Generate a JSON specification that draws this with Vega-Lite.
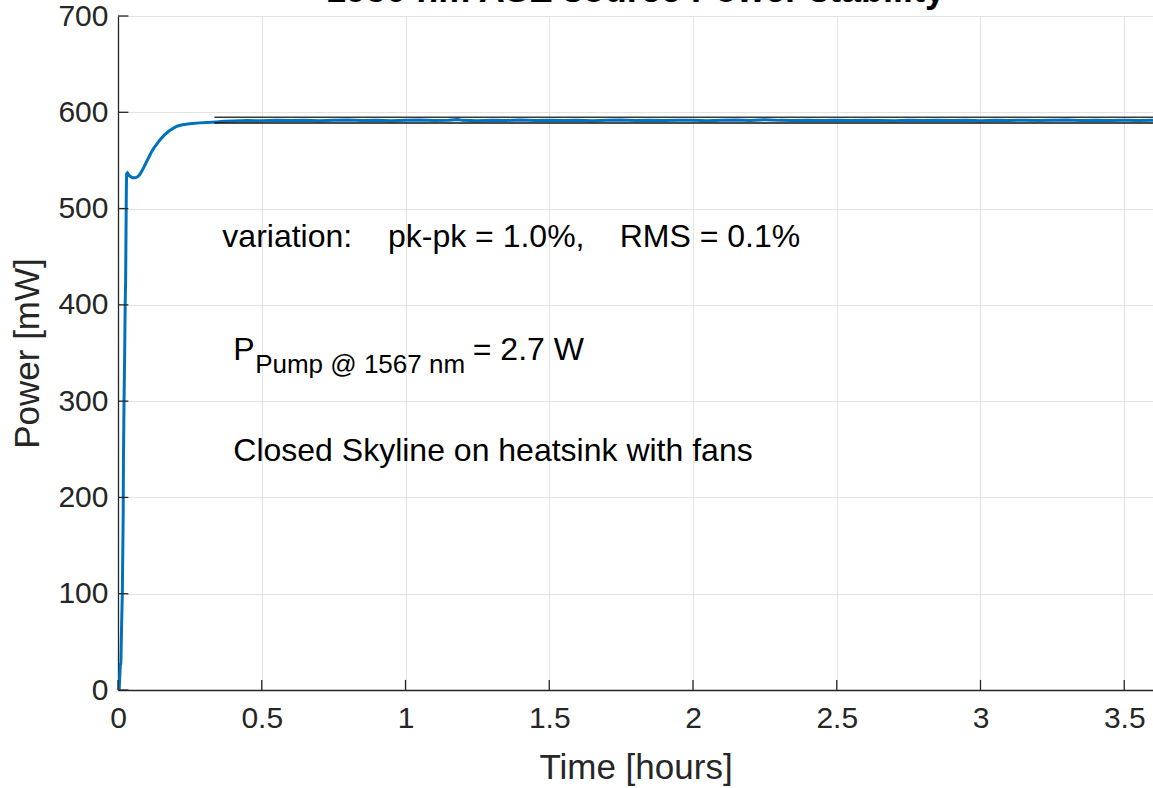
{
  "$schema": "https://vega.github.io/schema/vega-lite/v6.json",
  "autosize": {"type": "none"},
  "padding": {"left": 118, "top": 16, "right": 0, "bottom": 98},
  "width": 1035,
  "height": 674,
  "background": "white",
  "title": {"text": "1950 nm ASE source Power stability", "fontSize": 36, "fontWeight": "bold", "font": "Liberation Sans", "color": "#000000", "anchor": "middle", "baseline": "alphabetic", "offset": 0, "dy": 37},
  "config": {
    "view": {"stroke": null},
    "axis": {"labelFont": "Liberation Sans", "titleFont": "Liberation Sans", "labelColor": "#262626", "titleColor": "#262626", "domainColor": "#262626", "gridColor": "#e3e3e3", "gridWidth": 1, "domainWidth": 1.3, "labelFontSize": 30, "titleFontSize": 35, "titleFontWeight": "normal", "ticks": false, "tickSize": 0}
  },
  "datasets": {
    "series": [
      {"t": 0.0, "p": 0}, {"t": 0.004, "p": 0}, {"t": 0.008, "p": 26}, {"t": 0.010, "p": 28}, {"t": 0.012, "p": 60},
      {"t": 0.015, "p": 100}, {"t": 0.018, "p": 180}, {"t": 0.019, "p": 240}, {"t": 0.021, "p": 300}, {"t": 0.023, "p": 345},
      {"t": 0.025, "p": 400}, {"t": 0.0265, "p": 425}, {"t": 0.028, "p": 480}, {"t": 0.029, "p": 520}, {"t": 0.030, "p": 536},
      {"t": 0.033, "p": 537}, {"t": 0.040, "p": 534}, {"t": 0.050, "p": 532}, {"t": 0.060, "p": 532}, {"t": 0.068, "p": 533},
      {"t": 0.075, "p": 535}, {"t": 0.085, "p": 540}, {"t": 0.095, "p": 546}, {"t": 0.105, "p": 552}, {"t": 0.115, "p": 558},
      {"t": 0.125, "p": 563}, {"t": 0.135, "p": 567}, {"t": 0.145, "p": 571}, {"t": 0.160, "p": 576}, {"t": 0.175, "p": 580},
      {"t": 0.190, "p": 583}, {"t": 0.205, "p": 585.5}, {"t": 0.224, "p": 587}, {"t": 0.250, "p": 588}, {"t": 0.283, "p": 589},
      {"t": 0.310, "p": 589.5}, {"t": 0.342, "p": 590}, {"t": 0.370, "p": 590.6}, {"t": 0.400, "p": 591.0}, {"t": 0.45, "p": 591.4},
      {"t": 0.50, "p": 591.2}, {"t": 0.55, "p": 591.7}, {"t": 0.60, "p": 591.4}, {"t": 0.65, "p": 591.8}, {"t": 0.70, "p": 591.3},
      {"t": 0.75, "p": 591.6}, {"t": 0.80, "p": 591.9}, {"t": 0.85, "p": 591.4}, {"t": 0.90, "p": 591.7}, {"t": 0.95, "p": 591.2},
      {"t": 1.00, "p": 591.6}, {"t": 1.05, "p": 591.9}, {"t": 1.10, "p": 591.5}, {"t": 1.15, "p": 591.8}, {"t": 1.18, "p": 592.6},
      {"t": 1.20, "p": 591.6}, {"t": 1.25, "p": 591.3}, {"t": 1.30, "p": 591.7}, {"t": 1.35, "p": 591.5}, {"t": 1.40, "p": 591.9},
      {"t": 1.45, "p": 591.4}, {"t": 1.50, "p": 591.7}, {"t": 1.55, "p": 591.5}, {"t": 1.60, "p": 591.8}, {"t": 1.65, "p": 591.3},
      {"t": 1.70, "p": 591.6}, {"t": 1.75, "p": 592.1}, {"t": 1.80, "p": 591.5}, {"t": 1.85, "p": 591.7}, {"t": 1.90, "p": 591.4},
      {"t": 1.95, "p": 591.8}, {"t": 2.00, "p": 591.6}, {"t": 2.05, "p": 591.3}, {"t": 2.10, "p": 591.7}, {"t": 2.15, "p": 591.9},
      {"t": 2.20, "p": 591.5}, {"t": 2.25, "p": 592.3}, {"t": 2.30, "p": 591.6}, {"t": 2.35, "p": 591.4}, {"t": 2.40, "p": 591.8},
      {"t": 2.45, "p": 591.5}, {"t": 2.50, "p": 591.7}, {"t": 2.55, "p": 591.4}, {"t": 2.60, "p": 591.8}, {"t": 2.65, "p": 591.5},
      {"t": 2.70, "p": 591.3}, {"t": 2.75, "p": 591.7}, {"t": 2.80, "p": 591.5}, {"t": 2.85, "p": 591.8}, {"t": 2.90, "p": 591.4},
      {"t": 2.95, "p": 591.6}, {"t": 3.00, "p": 591.3}, {"t": 3.05, "p": 591.7}, {"t": 3.10, "p": 591.5}, {"t": 3.15, "p": 591.8},
      {"t": 3.20, "p": 591.4}, {"t": 3.25, "p": 591.6}, {"t": 3.30, "p": 591.9}, {"t": 3.35, "p": 591.5}, {"t": 3.40, "p": 591.7},
      {"t": 3.45, "p": 591.4}, {"t": 3.50, "p": 591.6}, {"t": 3.55, "p": 591.5}, {"t": 3.60, "p": 591.6}
    ],
    "limits": [
      {"t1": 0.335, "t2": 3.6, "p": 594.8, "kind": "max"},
      {"t1": 0.335, "t2": 3.6, "p": 588.9, "kind": "min"}
    ],
    "xticks": [{"v": 0}, {"v": 0.5}, {"v": 1}, {"v": 1.5}, {"v": 2}, {"v": 2.5}, {"v": 3}, {"v": 3.5}],
    "yticks": [{"v": 0}, {"v": 100}, {"v": 200}, {"v": 300}, {"v": 400}, {"v": 500}, {"v": 600}, {"v": 700}],
    "notes": [
      {"t": 0.363, "p": 460, "label": "variation:"},
      {"t": 0.939, "p": 460, "label": "pk-pk = 1.0%,"},
      {"t": 1.745, "p": 460, "label": "RMS = 0.1%"},
      {"t": 0.401, "p": 343, "label": "P"},
      {"t": 1.234, "p": 343, "label": "= 2.7 W"},
      {"t": 0.401, "p": 238, "label": "Closed Skyline on heatsink with fans"}
    ],
    "subs": [
      {"t": 0.477, "p": 329, "label": "Pump @ 1567 nm"}
    ]
  },
  "layer": [
    {
      "data": {"name": "series"},
      "mark": {"type": "line", "color": "#0072BD", "strokeWidth": 3, "clip": true},
      "encoding": {
        "x": {"field": "t", "type": "quantitative", "scale": {"domain": [0, 3.6], "nice": false},
          "axis": {"title": "Time [hours]", "values": [0, 0.5, 1, 1.5, 2, 2.5, 3, 3.5], "format": "~g", "grid": true, "labelPadding": 13, "titlePadding": 17, "labelFlush": false}},
        "y": {"field": "p", "type": "quantitative", "scale": {"domain": [0, 700], "nice": false},
          "axis": {"title": "Power [mW]", "values": [0, 100, 200, 300, 400, 500, 600, 700], "grid": true, "labelPadding": 10, "titlePadding": 12, "labelFlush": false}}
      }
    },
    {
      "data": {"name": "xticks"},
      "mark": {"type": "rule", "strokeWidth": 1.3, "color": "#262626"},
      "encoding": {
        "x": {"field": "v", "type": "quantitative"},
        "y": {"datum": 0, "type": "quantitative"},
        "y2": {"datum": 10.5}
      }
    },
    {
      "data": {"name": "yticks"},
      "mark": {"type": "rule", "strokeWidth": 1.3, "color": "#262626"},
      "encoding": {
        "y": {"field": "v", "type": "quantitative"},
        "x": {"datum": 0, "type": "quantitative"},
        "x2": {"datum": 0.036}
      }
    },
    {
      "data": {"name": "limits"},
      "mark": {"type": "rule", "strokeWidth": 1.5},
      "encoding": {
        "x": {"field": "t1", "type": "quantitative"},
        "x2": {"field": "t2"},
        "y": {"field": "p", "type": "quantitative"},
        "color": {"field": "kind", "type": "nominal", "scale": {"domain": ["max", "min"], "range": ["#3a3a3a", "#111111"]}, "legend": null}
      }
    },
    {
      "data": {"name": "notes"},
      "mark": {"type": "text", "font": "Liberation Sans", "fontSize": 32, "align": "left", "baseline": "alphabetic", "color": "#000000"},
      "encoding": {
        "x": {"field": "t", "type": "quantitative"},
        "y": {"field": "p", "type": "quantitative"},
        "text": {"field": "label"}
      }
    },
    {
      "data": {"name": "subs"},
      "mark": {"type": "text", "font": "Liberation Sans", "fontSize": 26, "align": "left", "baseline": "alphabetic", "color": "#000000"},
      "encoding": {
        "x": {"field": "t", "type": "quantitative"},
        "y": {"field": "p", "type": "quantitative"},
        "text": {"field": "label"}
      }
    }
  ]
}
